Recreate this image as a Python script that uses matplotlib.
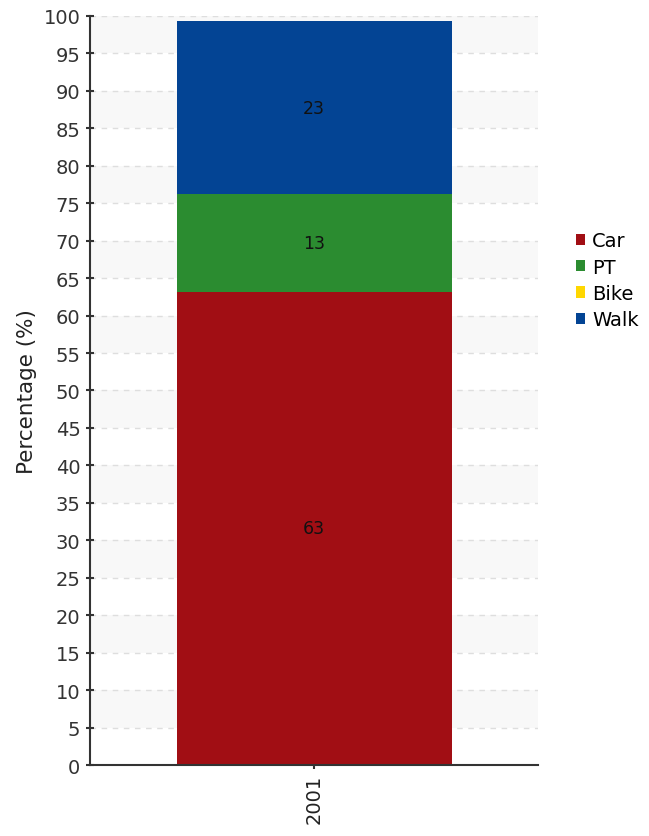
import matplotlib
matplotlib.use("Agg")
import matplotlib.pyplot as plt
from matplotlib.patches import Patch

plt.rcParams["font.family"] = ["DejaVu Sans"]

years = ["2001"]
modes = ["Car", "PT", "Bike", "Walk"]
values = {"Car": [63.2], "PT": [13.0], "Bike": [0], "Walk": [23.1]}
colors = {"Car": "#A10E14", "PT": "#2B8C30", "Bike": "#FFD700", "Walk": "#034494"}

fig = plt.figure(figsize=(6.49, 8.37), dpi=100)
ax = fig.add_axes([0.139, 0.0848, 0.69, 0.895])

# alternating bands + dashed grid
for lo in range(5, 100, 10):
    ax.axhspan(lo, lo + 5, color="#f8f8f8", zorder=0, lw=0)
for y in range(5, 101, 5):
    ax.axhline(y, color="#dedede", ls=(0, (4, 4)), lw=1, zorder=0.5)

x = list(range(len(years)))
bottom = [0] * len(years)
for m in modes:
    v = values[m]
    ax.bar(x, v, width=0.614, bottom=bottom, color=colors[m], zorder=2, linewidth=0)
    for xi, vi, bi in zip(x, v, bottom):
        if vi > 0:
            ax.text(xi, bi + vi / 2, f"{vi:.0f}", ha="center", va="center", fontsize=12.5,
                    color="#111111", zorder=3)
    bottom = [b + vi for b, vi in zip(bottom, v)]

ax.set_xlim(-0.5, 0.5)
ax.set_ylim(0, 100)
ax.set_yticks(range(0, 101, 5))
ax.set_xticks(x)
ax.set_xticklabels(years, rotation=90)
ax.tick_params(labelsize=14, colors="#333333", length=6, width=1.5, direction="inout")
ax.tick_params(axis="y", pad=4)
ax.tick_params(axis="x", labelcolor="#222222")
ax.set_ylabel("Percentage (%)", fontsize=15.5, color="#222222", labelpad=5)

for s in ["top", "right"]:
    ax.spines[s].set_visible(False)
for s in ["left", "bottom"]:
    ax.spines[s].set_color("#333333")
    ax.spines[s].set_linewidth(1.5)

handles = [Patch(facecolor=colors[m], label=m) for m in modes]
fig.legend(handles=handles, loc="center left", bbox_to_anchor=(0.872, 0.664), frameon=False,
           fontsize=14, handlelength=0.5, handleheight=0.5, handletextpad=0.35, labelspacing=0.38,
           borderpad=0)

fig.savefig("out.png", dpi=100)
